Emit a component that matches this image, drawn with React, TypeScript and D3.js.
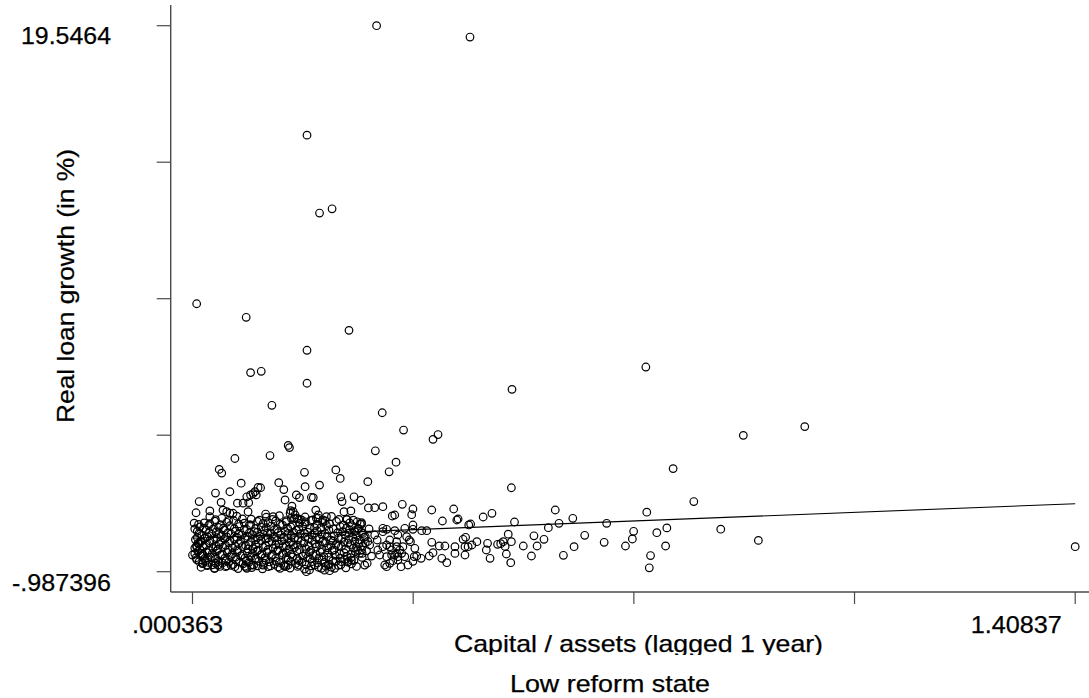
import React from 'react';
import * as d3 from 'd3';

const W = 1089;
const H = 698;

// axis extremes (min / max of the data, as labelled)
const xMin = 0.000363;
const xMax = 1.40837;
const yMin = -0.987396;
const yMax = 19.5464;
const xTickLabels = ['.000363', '1.40837'];
const yTickLabels = ['-.987396', '19.5464'];
const xTitle = 'Capital / assets (lagged 1 year)';
const yTitle = 'Real loan growth (in %)';
const caption = 'Low reform state';

// fitted line endpoints
const fitX = [0.000363, 1.40837];
const fitY = [0.27, 1.57];

// points: [capital/assets, real loan growth]
const highOutliers: [number, number][] = [
  [0.294, 19.5464], [0.443, 19.12], [0.183, 15.43], [0.203, 12.5], [0.223, 12.66],
  [0.007, 9.09], [0.086, 8.58], [0.25, 8.09], [0.183, 7.34], [0.093, 6.5], [0.11, 6.55],
  [0.183, 6.1], [0.51, 5.87], [0.127, 5.27], [0.303, 4.99], [0.337, 4.34], [0.392, 4.17],
  [0.384, 3.99], [0.7235, 6.71], [0.879, 4.14], [0.977, 4.47], [0.153, 3.76], [0.155, 3.68],
  [0.292, 3.56],
];

const midPoints: [number, number][] = [
  [0.124, 3.38], [0.068, 3.27], [0.043, 2.86], [0.047, 2.72], [0.179, 2.75], [0.229, 2.84],
  [0.236, 2.52], [0.28, 2.4], [0.078, 2.34], [0.037, 1.97], [0.06, 2.02], [0.011, 1.65],
  [0.138, 2.36], [0.146, 2.1], [0.18, 2.21], [0.203, 2.27], [0.105, 2.18], [0.109, 2.17],
  [0.1, 2.02], [0.097, 1.95], [0.102, 1.9], [0.148, 1.71], [0.087, 1.83], [0.093, 1.9],
  [0.09, 1.61], [0.081, 1.59], [0.072, 1.59], [0.166, 1.9], [0.171, 1.8], [0.19, 1.81],
  [0.193, 1.8], [0.046, 1.62], [0.006, 1.23], [0.003, 0.84], [0.028, 1.3], [0.237, 1.83],
  [0.239, 1.65], [0.258, 1.83], [0.269, 1.7], [0.242, 1.27], [0.253, 1.3], [0.247, 0.98],
  [0.281, 1.41], [0.291, 1.42], [0.27, 0.86], [0.27, 0.81], [0.159, 1.48], [0.157, 1.31],
  [0.049, 1.33], [0.055, 1.27], [0.06, 1.21], [0.065, 1.21], [0.089, 1.27], [0.117, 1.18],
  [0.129, 1.08], [0.161, 1.27], [0.156, 1.21], [0.164, 1.15], [0.158, 1.02], [0.167, 1.02],
  [0.174, 0.96], [0.18, 0.89], [0.197, 1.33], [0.201, 1.15], [0.198, 1.02], [0.208, 0.96],
  [0.214, 1.08], [0.325, 3.13], [0.314, 2.77], [0.509, 2.17], [0.767, 2.89], [0.8, 1.65],
];

const clusterCore: [number, number][] = [
  [0.028, 1.08], [0.047, 1.02], [0.071, 1.1], [0.094, 0.99], [0.118, 1.06], [0.139, 1.12],
  [0.163, 1.01], [0.18, 1.07], [0.201, 1.03], [0.222, 1.09], [0.246, 0.98],
  [0.019, 0.85], [0.036, 0.91], [0.055, 0.87], [0.066, 0.93], [0.083, 0.84], [0.104, 0.9],
  [0.121, 0.86], [0.133, 0.92], [0.15, 0.88], [0.171, 0.83], [0.189, 0.94], [0.208, 0.87],
  [0.23, 0.9], [0.251, 0.85], [0.263, 0.89],
  [0.012, 0.7], [0.026, 0.75], [0.042, 0.68], [0.06, 0.74], [0.075, 0.71], [0.091, 0.77],
  [0.11, 0.69], [0.126, 0.73], [0.144, 0.76], [0.157, 0.7], [0.176, 0.72], [0.195, 0.67],
  [0.214, 0.75], [0.236, 0.71], [0.255, 0.74],
  [0.008, 0.53], [0.022, 0.58], [0.038, 0.51], [0.051, 0.57], [0.069, 0.54], [0.087, 0.6],
  [0.099, 0.52], [0.115, 0.56], [0.131, 0.59], [0.148, 0.53], [0.166, 0.57], [0.184, 0.5],
  [0.199, 0.55], [0.218, 0.58], [0.24, 0.52], [0.259, 0.56],
  [0.015, 0.38], [0.031, 0.42], [0.046, 0.36], [0.062, 0.43], [0.079, 0.39], [0.096, 0.41],
  [0.108, 0.35], [0.124, 0.44], [0.141, 0.4], [0.158, 0.37], [0.172, 0.43], [0.191, 0.39],
  [0.206, 0.42], [0.226, 0.36], [0.244, 0.41], [0.262, 0.38],
  [0.005, 0.22], [0.02, 0.27], [0.034, 0.2], [0.052, 0.26], [0.067, 0.23], [0.084, 0.28],
  [0.101, 0.21], [0.118, 0.25], [0.135, 0.19], [0.152, 0.27], [0.169, 0.22], [0.185, 0.26],
  [0.203, 0.24], [0.221, 0.2], [0.233, 0.27], [0.25, 0.23],
  [0.011, 0.06], [0.027, 0.1], [0.043, 0.04], [0.058, 0.11], [0.074, 0.07], [0.09, 0.03],
  [0.106, 0.09], [0.122, 0.12], [0.138, 0.05], [0.155, 0.08], [0.161, 0.02], [0.178, 0.1],
  [0.196, 0.06], [0.212, 0.11], [0.229, 0.04], [0.248, 0.09], [0.266, 0.07],
  [0.004, -0.1], [0.018, -0.05], [0.033, -0.11], [0.049, -0.06], [0.064, -0.09], [0.08, -0.04],
  [0.097, -0.12], [0.113, -0.07], [0.129, -0.1], [0.145, -0.05], [0.163, -0.08], [0.181, -0.12],
  [0.198, -0.06], [0.216, -0.09], [0.238, -0.04], [0.257, -0.1],
  [0.009, -0.22], [0.024, -0.27], [0.04, -0.2], [0.056, -0.26], [0.072, -0.23], [0.088, -0.28],
  [0.103, -0.21], [0.119, -0.25], [0.136, -0.19], [0.15, -0.27], [0.167, -0.22], [0.187, -0.26],
  [0.204, -0.24], [0.223, -0.2], [0.242, -0.27], [0.26, -0.23],
  [0.013, -0.38], [0.029, -0.43], [0.045, -0.36], [0.061, -0.42], [0.077, -0.39], [0.093, -0.44],
  [0.109, -0.37], [0.126, -0.41], [0.143, -0.35], [0.16, -0.43], [0.176, -0.4], [0.193, -0.38],
  [0.21, -0.42], [0.228, -0.37], [0.247, -0.41],
  [0.007, -0.53], [0.021, -0.58], [0.037, -0.51], [0.054, -0.57], [0.07, -0.54], [0.086, -0.59],
  [0.102, -0.52], [0.117, -0.56], [0.134, -0.6], [0.153, -0.53], [0.17, -0.57], [0.188, -0.5],
  [0.207, -0.55], [0.224, -0.58], [0.243, -0.52], [0.258, -0.56],
  [0.016, -0.68], [0.032, -0.73], [0.048, -0.66], [0.065, -0.72], [0.081, -0.69], [0.098, -0.74],
  [0.114, -0.67], [0.131, -0.71], [0.147, -0.75], [0.165, -0.68], [0.182, -0.72], [0.2, -0.66],
  [0.219, -0.71], [0.237, -0.73], [0.254, -0.69],
  [0.014, -0.82], [0.035, -0.86], [0.053, -0.8], [0.073, -0.87], [0.095, -0.83], [0.112, -0.88],
  [0.137, -0.81], [0.156, -0.85], [0.179, -0.89], [0.201, -0.82], [0.227, -0.86], [0.245, -0.84],
];

const clusterCoreB: [number, number][] = [
  [0.037, 0.97], [0.058, 0.94], [0.08, 1.0], [0.107, 0.95], [0.128, 0.98], [0.15, 0.93],
  [0.171, 0.99], [0.192, 0.96], [0.212, 0.92], [0.234, 0.98], [0.257, 0.95],
  [0.01, 0.79], [0.028, 0.82], [0.045, 0.78], [0.074, 0.81], [0.093, 0.77], [0.113, 0.83],
  [0.14, 0.8], [0.16, 0.78], [0.18, 0.82], [0.199, 0.79], [0.219, 0.81], [0.241, 0.77], [0.268, 0.8],
  [0.004, 0.62], [0.018, 0.65], [0.033, 0.61], [0.05, 0.66], [0.067, 0.63], [0.083, 0.6],
  [0.101, 0.64], [0.118, 0.67], [0.135, 0.62], [0.152, 0.65], [0.17, 0.61], [0.187, 0.64],
  [0.205, 0.66], [0.225, 0.62], [0.246, 0.65], [0.265, 0.63],
  [0.011, 0.46], [0.027, 0.49], [0.043, 0.45], [0.057, 0.48], [0.074, 0.44], [0.091, 0.47],
  [0.104, 0.5], [0.12, 0.46], [0.137, 0.48], [0.153, 0.45], [0.162, 0.49], [0.179, 0.46],
  [0.195, 0.47], [0.212, 0.44], [0.232, 0.48], [0.25, 0.46], [0.27, 0.49],
  [0.008, 0.3], [0.024, 0.33], [0.039, 0.29], [0.055, 0.32], [0.071, 0.31], [0.088, 0.34],
  [0.104, 0.3], [0.121, 0.28], [0.131, 0.33], [0.146, 0.31], [0.163, 0.29], [0.18, 0.32],
  [0.198, 0.3], [0.215, 0.33], [0.238, 0.29], [0.256, 0.31], [0.276, 0.32],
  [0.013, 0.15], [0.028, 0.18], [0.045, 0.14], [0.06, 0.17], [0.077, 0.16], [0.093, 0.13],
  [0.11, 0.18], [0.127, 0.15], [0.143, 0.17], [0.158, 0.14], [0.174, 0.16], [0.191, 0.19],
  [0.208, 0.15], [0.225, 0.17], [0.242, 0.13], [0.259, 0.16], [0.28, 0.15],
  [0.007, -0.01], [0.022, 0.02], [0.038, -0.02], [0.053, 0.01], [0.069, -0.03], [0.085, 0.0],
  [0.101, 0.03], [0.117, -0.01], [0.133, 0.02], [0.15, -0.02], [0.168, 0.01], [0.186, -0.03],
  [0.203, 0.02], [0.221, 0.0], [0.233, -0.01], [0.252, 0.03], [0.272, -0.02],
  [0.012, -0.15], [0.026, -0.18], [0.041, -0.14], [0.057, -0.17], [0.072, -0.16], [0.089, -0.13],
  [0.105, -0.18], [0.121, -0.15], [0.137, -0.17], [0.154, -0.14], [0.171, -0.16], [0.189, -0.19],
  [0.207, -0.15], [0.226, -0.17], [0.245, -0.13], [0.264, -0.16],
  [0.004, -0.31], [0.017, -0.34], [0.032, -0.3], [0.048, -0.33], [0.064, -0.31], [0.08, -0.35],
  [0.096, -0.29], [0.111, -0.32], [0.128, -0.34], [0.145, -0.3], [0.158, -0.33], [0.181, -0.31],
  [0.197, -0.34], [0.216, -0.29], [0.235, -0.32], [0.253, -0.33], [0.271, -0.3],
  [0.006, -0.46], [0.02, -0.49], [0.036, -0.45], [0.052, -0.48], [0.069, -0.44], [0.084, -0.47],
  [0.1, -0.5], [0.116, -0.46], [0.133, -0.48], [0.15, -0.45], [0.167, -0.49], [0.184, -0.46],
  [0.202, -0.47], [0.218, -0.44], [0.236, -0.48], [0.253, -0.46],
  [0.011, -0.61], [0.026, -0.64], [0.041, -0.6], [0.058, -0.63], [0.075, -0.62], [0.09, -0.65],
  [0.106, -0.59], [0.123, -0.62], [0.139, -0.64], [0.157, -0.6], [0.175, -0.63], [0.191, -0.61],
  [0.211, -0.64], [0.229, -0.6], [0.248, -0.63],
  [0.024, -0.76], [0.044, -0.79], [0.062, -0.75], [0.084, -0.78], [0.104, -0.77], [0.121, -0.8],
  [0.146, -0.76], [0.168, -0.79], [0.19, -0.77], [0.213, -0.78], [0.233, -0.75], [0.262, -0.79],
];

const clusterEdge: [number, number][] = [
  [0.017, -0.67], [0.023, -0.74], [0.037, -0.67], [0.041, -0.74], [0.055, -0.77], [0.068, -0.8],
  [0.086, -0.82], [0.094, -0.74], [0.113, -0.74], [0.125, -0.77], [0.14, -0.86], [0.153, -0.74],
  [0.17, -0.74], [0.182, -0.987396], [0.195, -0.74], [0.206, -0.86], [0.217, -0.74], [0.222, -0.82],
  [0.219, -0.95], [0.238, -0.61], [0.249, -0.61], [0.254, -0.55], [0.275, -0.74], [0.279, -0.67],
  [0.036, -0.86], [0.087, -0.86], [0.149, -0.8], [0.211, -0.93], [0.187, -0.92],
  [0.000363, -0.36], [0.007, -0.05], [0.009, 0.08], [0.014, 0.14], [0.02, 0.27], [0.015, -0.3],
  [0.016, -0.4],
  [0.267, 0.205], [0.259, 0.517], [0.251, 0.581], [0.265, 0.645], [0.262, -0.047], [0.27, -0.171],
  [0.267, -0.295], [0.283, 0.017], [0.286, -0.4], [0.272, 0.45], [0.276, 0.1], [0.271, -0.45],
  [0.278, -0.2], [0.282, 0.62], [0.274, 0.3],
];

const rightPoints: [number, number][] = [
  [0.304, 0.645], [0.328, 0.393], [0.326, 0.141], [0.31, 0.017], [0.318, -0.171], [0.326, -0.295],
  [0.315, -0.671], [0.307, -0.735], [0.31, -0.423], [0.299, -0.359], [0.296, -0.171], [0.295, 0.205],
  [0.291, 0.393],
  [0.704, 0.532], [0.702, 0.243], [0.691, -0.021], [0.661, 0.833], [0.657, 0.119], [0.626, 0.382],
  [0.609, -0.047], [0.607, 1.021], [0.592, -0.37], [0.585, 0.833], [0.579, 1.333], [0.568, 0.668],
  [0.561, 0.231], [0.55, -0.021], [0.545, 0.363], [0.541, -0.397], [0.528, -0.021], [0.514, 0.882],
  [0.509, 0.141], [0.508, -0.649], [0.504, 0.423], [0.501, -0.322], [0.496, 0.141], [0.499, -0.04],
  [0.492, 0.066], [0.487, 0.043], [0.478, 1.209], [0.475, -0.483], [0.471, 0.081], [0.469, -0.171],
  [0.464, 1.07], [0.454, 0.141], [0.446, 0.017], [0.444, 0.807], [0.441, 0.77], [0.44, -0.047],
  [0.436, 0.306], [0.435, -0.047], [0.435, -0.359], [0.432, 0.231], [0.419, -0.3], [0.419, -0.047],
  [0.424, 0.995], [0.422, 0.957], [0.417, 1.371], [0.406, -0.649], [0.403, -0.021], [0.399, 0.919],
  [0.398, -0.483], [0.394, -0.021], [0.384, -0.273], [0.382, 0.119], [0.382, 1.333], [0.378, -0.397],
  [0.374, 0.555], [0.366, 0.555], [0.365, -0.483], [0.358, -0.397], [0.354, -0.423], [0.352, -0.596],
  [0.352, 0.769], [0.352, 0.607], [0.352, 1.371], [0.35, 1.157], [0.346, 0.205], [0.342, 0.329],
  [0.339, 0.645], [0.339, -0.423], [0.336, -0.047], [0.335, 1.548], [0.333, -0.799], [0.331, -0.171],
  [0.328, -0.423], [0.323, 0.555], [0.32, -0.574], [0.319, 1.108], [0.318, -0.359], [0.315, -0.047],
  [0.315, 0.205], [0.31, -0.799], [0.31, 0.607], [0.304, -0.047], [0.304, 0.517], [0.304, 1.457],
  [0.326, -0.047], [0.348, 0.141], [0.355, -0.107], [0.334, -0.295], [0.344, -0.735], [0.328, -0.547],
  [0.323, 1.145], [0.323, -0.359],
  [0.843, 0.61], [0.903, 0.19], [0.757, 0.66], [0.741, 0.48], [0.755, -0.02], [0.731, -0.38],
  [0.729, -0.84], [0.725, 1.25], [1.40837, -0.047],
];

const allPoints = [
  ...highOutliers, ...midPoints, ...clusterCore, ...clusterCoreB, ...clusterEdge, ...rightPoints,
];

const FONT = "'Liberation Sans', Arial, Helvetica, sans-serif";
const AXIS = '#4a4a4a';

export default function App() {
  const x = d3.scaleLinear().domain([xMin, xMax]).range([192.5, 1075.2]);
  const y = d3.scaleLinear().domain([yMin, yMax]).range([571.7, 25.7]);
  const xTicks = d3.range(5).map((i) => xMin + (i * (xMax - xMin)) / 4);
  const yTicks = d3.range(5).map((i) => yMin + (i * (yMax - yMin)) / 4);
  const axisY = 592;
  const axisX = 170.7;
  const fitLine = d3.line<number>().x((d) => x(fitX[d])).y((d) => y(fitY[d]))([0, 1]) || '';

  return (
    <svg
      width={W}
      height={H}
      viewBox={`0 0 ${W} ${H}`}
      style={{ position: 'absolute', left: 0, top: 0, background: '#fff' }}
    >
      <rect x={0} y={0} width={W} height={H} fill="#fff" />
      {/* points */}
      <g fill="none" stroke="#000" strokeWidth={1.2}>
        {allPoints.map((p, i) => (
          <circle key={i} cx={x(p[0])} cy={y(p[1])} r={3.8} />
        ))}
      </g>
      <path d={fitLine} stroke="#000" strokeWidth={1.1} fill="none" />
      {/* axes */}
      <line x1={axisX} x2={axisX} y1={5} y2={axisY} stroke={AXIS} strokeWidth={1.4} />
      <line x1={axisX} x2={W} y1={axisY} y2={axisY} stroke={AXIS} strokeWidth={1.4} />
      {yTicks.map((t, i) => (
        <line key={'yt' + i} x1={axisX - 14} x2={axisX} y1={y(t)} y2={y(t)} stroke={AXIS} strokeWidth={1.2} />
      ))}
      {xTicks.map((t, i) => (
        <line key={'xt' + i} x1={x(t)} x2={x(t)} y1={axisY} y2={axisY + 12} stroke={AXIS} strokeWidth={1.2} />
      ))}
      {/* tick labels */}
      <g fontFamily={FONT} fontSize={24} fill="#000" stroke="#000" strokeWidth={0.25}>
        <text x={111} y={y(yMin) + 19} textAnchor="end" textLength={99} lengthAdjust="spacingAndGlyphs">
          {yTickLabels[0]}
        </text>
        <text x={111} y={y(yMax) + 18.5} textAnchor="end" textLength={90} lengthAdjust="spacingAndGlyphs">
          {yTickLabels[1]}
        </text>
        <text x={x(xMin) - 15} y={633} textAnchor="middle" textLength={91} lengthAdjust="spacingAndGlyphs">
          {xTickLabels[0]}
        </text>
        <text x={x(xMax) - 59} y={633} textAnchor="middle" textLength={91} lengthAdjust="spacingAndGlyphs">
          {xTickLabels[1]}
        </text>
        <text x={638.5} y={651.5} textAnchor="middle" textLength={369} lengthAdjust="spacingAndGlyphs">
          {xTitle}
        </text>
        <text
          transform="translate(73.5,286) rotate(-90)"
          textAnchor="middle"
          textLength={274}
          lengthAdjust="spacingAndGlyphs"
        >
          {yTitle}
        </text>
      </g>
      {/* caption box (covers title descenders, as in the original) */}
      <rect x={0} y={655} width={W} height={H - 655} fill="#fff" />
      <text
        x={610}
        y={691.5}
        textAnchor="middle"
        fontFamily={FONT}
        fontSize={24}
        textLength={200}
        lengthAdjust="spacingAndGlyphs"
        fill="#000"
        stroke="#000"
        strokeWidth={0.25}
      >
        {caption}
      </text>
    </svg>
  );
}
